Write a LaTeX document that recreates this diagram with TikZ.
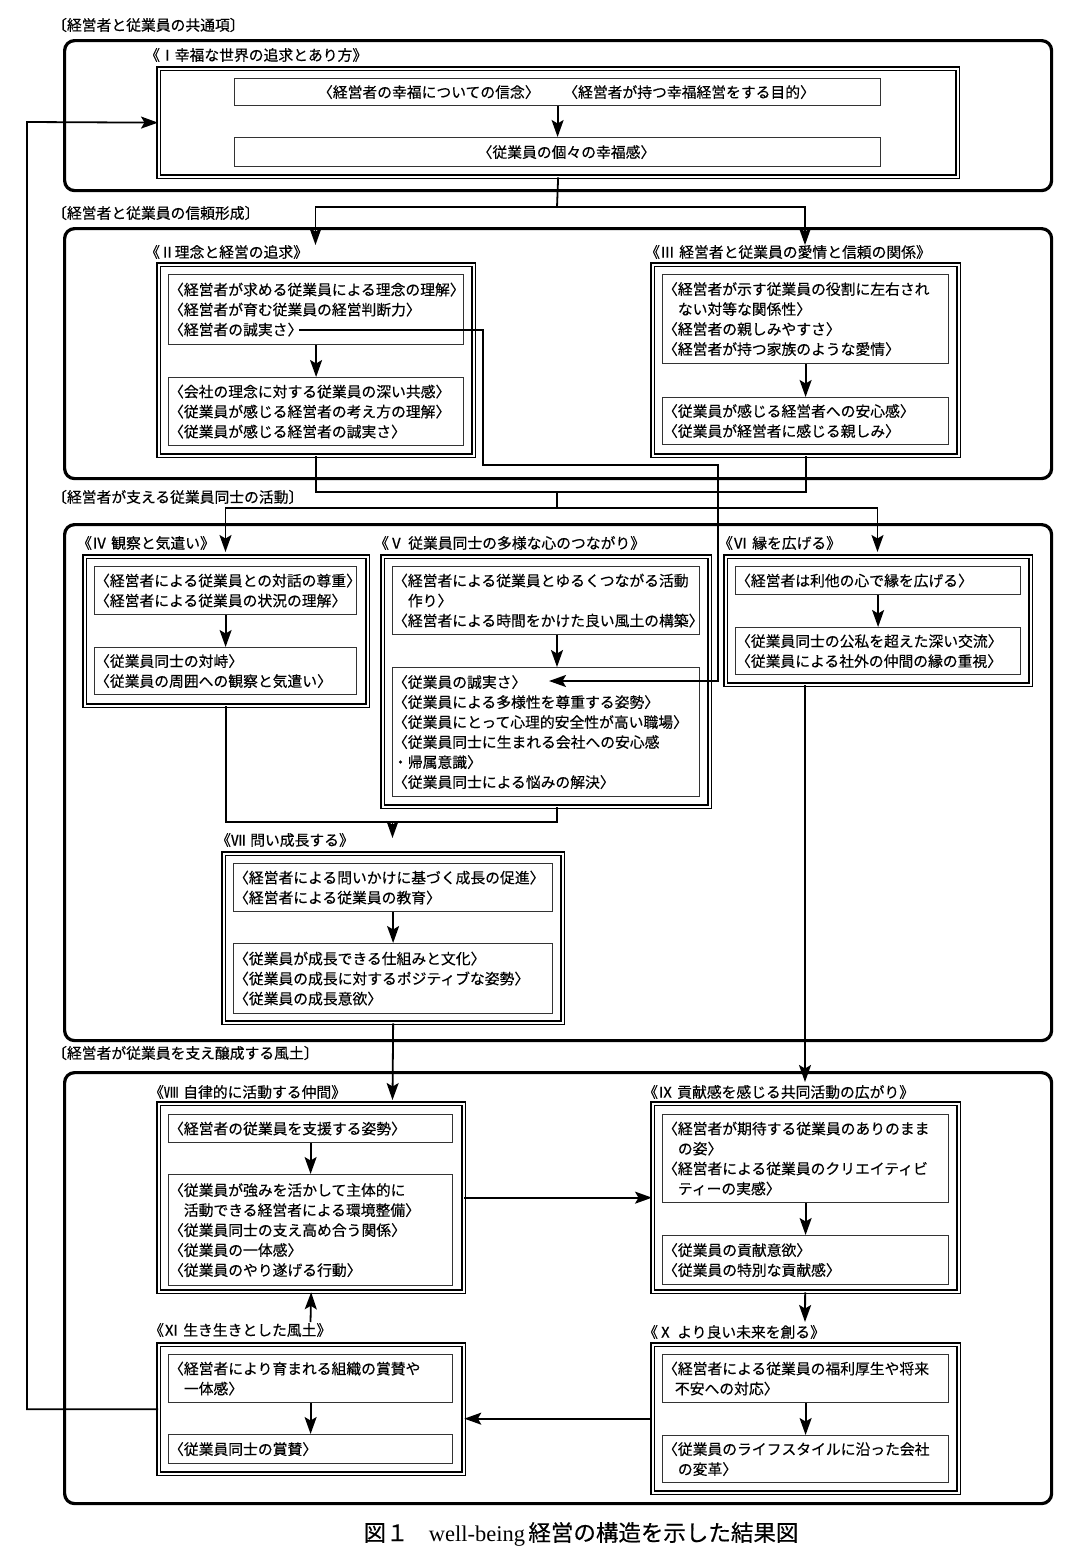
\documentclass[tikz,border=0pt]{standalone}
\usepackage{fontspec}
\setmainfont{Noto Sans CJK JP}[FakeBold=0.4]
\newfontfamily\capserif{Liberation Serif}
\usetikzlibrary{arrows.meta}

\tikzset{
  area/.style={draw, line width=3.2pt, rounded corners=10pt, anchor=north west, inner sep=0pt},
  frame/.style={draw, double, double distance=2pt, line width=1.3pt, anchor=north west, inner sep=0pt},
  item/.style={draw=black!80, line width=1.2pt, anchor=north west, inner xsep=0.5pt, inner ysep=0pt, align=left},
  title/.style={anchor=west, inner sep=0pt},
  link/.style={line width=1.8pt},
  arr/.style={link, -{Stealth[length=17pt, width=12pt, inset=3.5pt]}},
}

\begin{document}
\begin{tikzpicture}[x=1pt, y=-1pt, font=\fontsize{14.8pt}{20pt}\selectfont]
\useasboundingbox (0,0) rectangle (1079,1558);

% the four groups
\node (areaA)[area, minimum width=987pt, minimum height=150pt] at (63,39) {};
\node (areaB)[area, minimum width=987pt, minimum height=250pt] at (63,227) {};
\node (areaC)[area, minimum width=987pt, minimum height=516pt] at (63,523) {};
\node (areaD)[area, minimum width=987pt, minimum height=431pt] at (63,1071) {};
\node (labA)[title] at (52,25) {〔経営者と従業員の共通項〕};
\node (labB)[title] at (52,213) {〔経営者と従業員の信頼形成〕};
\node (labC)[title] at (52,497) {〔経営者が支える従業員同士の活動〕};
\node (labD)[title] at (52,1053) {〔経営者が従業員を支え醸成する風土〕};

% I
\node (Itl)[title] at (145,55) {《Ⅰ幸福な世界の追求とあり方》};
\node (If)[frame, minimum width=799pt, minimum height=108pt] at (158,68) {};
\node (I1)[item, align=center, text width=645pt, minimum height=27pt] at (234,78) {\hspace*{1.2em}〈経営者の幸福についての信念〉\hspace{1.6em}〈経営者が持つ幸福経営をする目的〉};
\node (I2)[item, align=center, text width=645pt, minimum height=29pt] at (234,137) {\hspace*{1.2em}〈従業員の個々の幸福感〉};

% II
\node (IItl)[title] at (145,252) {《Ⅱ理念と経営の追求》};
\node (IIf)[frame, minimum width=315pt, minimum height=191pt] at (158,264) {};
\node (IIa)[item, text width=294pt, minimum height=70pt] at (168,274) {〈経営者が求める従業員による理念の理解〉\\
〈経営者が育む従業員の経営判断力〉\\
〈経営者の誠実さ〉};
\node (IIb)[item, text width=294pt, minimum height=68pt] at (168,377) {〈会社の理念に対する従業員の深い共感〉\\
〈従業員が感じる経営者の考え方の理解〉\\
〈従業員が感じる経営者の誠実さ〉};

% III
\node (IIItl)[title] at (645,252) {《Ⅲ\hspace{0.3em}経営者と従業員の愛情と信頼の関係》};
\node (IIIf)[frame, minimum width=306pt, minimum height=191pt] at (652,264) {};
\node (IIIa)[item, text width=285pt, minimum height=89pt] at (662,274) {〈経営者が示す従業員の役割に左右され\\
\hspace*{1em}ない対等な関係性〉\\
〈経営者の親しみやすさ〉\\
〈経営者が持つ家族のような愛情〉};
\node (IIIb)[item, text width=285pt, minimum height=47pt] at (662,397) {〈従業員が感じる経営者への安心感〉\\
〈従業員が経営者に感じる親しみ〉};

% IV
\node (IVtl)[title] at (77,543) {《Ⅳ\hspace{0.3em}観察と気遣い》};
\node (IVf)[frame, minimum width=283pt, minimum height=149pt] at (84,556) {};
\node (IVa)[item, text width=261pt, minimum height=48pt] at (94,566) {〈経営者による従業員との対話の尊重〉\\
〈経営者による従業員の状況の理解〉};
\node (IVb)[item, text width=261pt, minimum height=47pt] at (94,647) {〈従業員同士の対峙〉\\
〈従業員の周囲への観察と気遣い〉};

% V
\node (Vtl)[title] at (374,543) {《Ⅴ\hspace{0.3em}従業員同士の多様な心のつながり》};
\node (Vf)[frame, minimum width=327pt, minimum height=250pt] at (382,556) {};
\node (Va)[item, text width=306pt, minimum height=68pt] at (392,566) {〈経営者による従業員とゆるくつながる活動\\
\hspace*{1em}作り〉\\
〈経営者による時間をかけた良い風土の構築〉};
\node (Vb)[item, text width=306pt, minimum height=129pt] at (392,667) {〈従業員の誠実さ〉\\
〈従業員による多様性を尊重する姿勢〉\\
〈従業員にとって心理的安全性が高い職場〉\\
〈従業員同士に生まれる会社への安心感\\
・帰属意識〉\\
〈従業員同士による悩みの解決〉};

% VI
\node (VItl)[title] at (718,543) {《Ⅵ\hspace{0.3em}縁を広げる》};
\node (VIf)[frame, minimum width=305pt, minimum height=128pt] at (725,556) {};
\node (VIa)[item, text width=284pt, minimum height=28pt] at (735,566) {〈経営者は利他の心で縁を広げる〉};
\node (VIb)[item, text width=284pt, minimum height=47pt] at (735,627) {〈従業員同士の公私を超えた深い交流〉\\
〈従業員による社外の仲間の縁の重視〉};

% VII
\node (VIItl)[title] at (216,840) {《Ⅶ\hspace{0.3em}問い成長する》};
\node (VIIf)[frame, minimum width=339pt, minimum height=169pt] at (223,853) {};
\node (VIIa)[item, text width=318pt, minimum height=48pt] at (233,863) {〈経営者による問いかけに基づく成長の促進〉\\
〈経営者による従業員の教育〉};
\node (VIIb)[item, text width=318pt, minimum height=70pt] at (233,943) {〈従業員が成長できる仕組みと文化〉\\
〈従業員の成長に対するポジティブな姿勢〉\\
〈従業員の成長意欲〉};

% VIII
\node (VIIItl)[title] at (149,1092) {《Ⅷ\hspace{0.3em}自律的に活動する仲間》};
\node (VIIIf)[frame, minimum width=305pt, minimum height=188pt] at (158,1103) {};
\node (VIIIa)[item, text width=283pt, minimum height=28pt] at (168,1114) {〈経営者の従業員を支援する姿勢〉};
\node (VIIIb)[item, text width=283pt, minimum height=111pt] at (168,1174) {〈従業員が強みを活かして主体的に\\
\hspace*{1em}活動できる経営者による環境整備〉\\
〈従業員同士の支え高め合う関係〉\\
〈従業員の一体感〉\\
〈従業員のやり遂げる行動〉};

% IX
\node (IXtl)[title] at (643,1092) {《Ⅸ\hspace{0.3em}貢献感を感じる共同活動の広がり》};
\node (IXf)[frame, minimum width=306pt, minimum height=188pt] at (652,1103) {};
\node (IXa)[item, text width=285pt, minimum height=88pt] at (662,1114) {〈経営者が期待する従業員のありのまま\\
\hspace*{1em}の姿〉\\
〈経営者による従業員のクリエイティビ\\
\hspace*{1em}ティーの実感〉};
\node (IXb)[item, text width=285pt, minimum height=49pt] at (662,1235) {〈従業員の貢献意欲〉\\
〈従業員の特別な貢献感〉};

% X
\node (Xtl)[title] at (643,1332) {《Ⅹ\hspace{0.3em}より良い未来を創る》};
\node (Xf)[frame, minimum width=306pt, minimum height=148pt] at (652,1344) {};
\node (Xa)[item, text width=285pt, minimum height=48pt] at (662,1354) {〈経営者による従業員の福利厚生や将来\\
\hspace*{0.8em}不安への対応〉};
\node (Xb)[item, text width=285pt, minimum height=47pt] at (662,1435) {〈従業員のライフスタイルに沿った会社\\
\hspace*{1em}の変革〉};

% XI
\node (XItl)[title] at (149,1330) {《Ⅺ\hspace{0.3em}生き生きとした風土》};
\node (XIf)[frame, minimum width=305pt, minimum height=129pt] at (158,1344) {};
\node (XIa)[item, text width=283pt, minimum height=48pt] at (168,1354) {〈経営者により育まれる組織の賞賛や\\
\hspace*{1em}一体感〉};
\node (XIb)[item, text width=283pt, minimum height=29pt] at (168,1434) {〈従業員同士の賞賛〉};

\node (caption)[inner sep=0pt] at (581,1534) {\fontsize{22.5pt}{26pt}\selectfont 図１\hspace{0.9em}{\capserif well-being}\hspace{0.15em}経営の構造を示した結果図};

% junctions and arrow ends
\coordinate (jI) at (557,207);
\coordinate (tII) at (315.5,245);
\coordinate (tIII) at (805,245);
\coordinate (sinc) at (299,330);
\coordinate (bendA) at (483,465);
\coordinate (bendB) at (718,681);
\coordinate (sincV) at (549,681);
\coordinate (j2) at (557,492);
\coordinate (j3) at (557,508);
\coordinate (tIV) at (225.5,552);
\coordinate (tVI) at (877.5,552);
\coordinate (j4) at (392.5,822);
\coordinate (tVII) at (392.5,838);
\coordinate (tVIII) at (392.5,1100);
\coordinate (tIX) at (805,1082);
\coordinate (tX) at (805,1322);
\coordinate (tXI) at (310.5,1322);
\coordinate (lp) at (27,122);

\draw[arr] (I1) -- (I2);
\draw[link] (If.south) -- (jI);
\draw[arr] (jI) -| (tII);
\draw[arr] (jI) -| (tIII);
\draw[arr] (IIa) -- (IIb);
\draw[arr] (IIIa) -- (IIIb);
\draw[arr] (sinc) -| (bendA) -| (bendB) -- (sincV);
\draw[link] (IIf.south) |- (j2) -| (IIIf.south);
\draw[link] (j2) -- (j3);
\draw[arr] (j3) -| (tIV);
\draw[arr] (j3) -| (tVI);
\draw[arr] (IVa) -- (IVb);
\draw[arr] (Va.south -| jI) -- (Vb.north -| jI);
\draw[arr] (VIa) -- (VIb);
\draw[link] (IVf.south) |- (j4) -| (Vf.south -| jI);
\draw[arr] (j4) -- (tVII);
\draw[arr] (VIIa) -- (VIIb);
\draw[arr] (VIIf.south) -- (tVIII);
\draw[arr] (VIf.south -| tIX) -- (tIX);
\draw[arr] (VIIIa) -- (VIIIb);
\draw[arr] (VIIIf) -- (IXf);
\draw[arr] (IXa) -- (IXb);
\draw[arr] (IXf) -- (tX);
\draw[arr] (Xa) -- (Xb);
\draw[arr] (Xf.west) -- (Xf.west -| XIf.east);
\draw[arr] (XIa) -- (XIb);
\draw[arr] (tXI) -- (VIIIf.south);
\draw[arr] (XIf.west) -| (lp) -- (If.west);
\end{tikzpicture}
\end{document}
